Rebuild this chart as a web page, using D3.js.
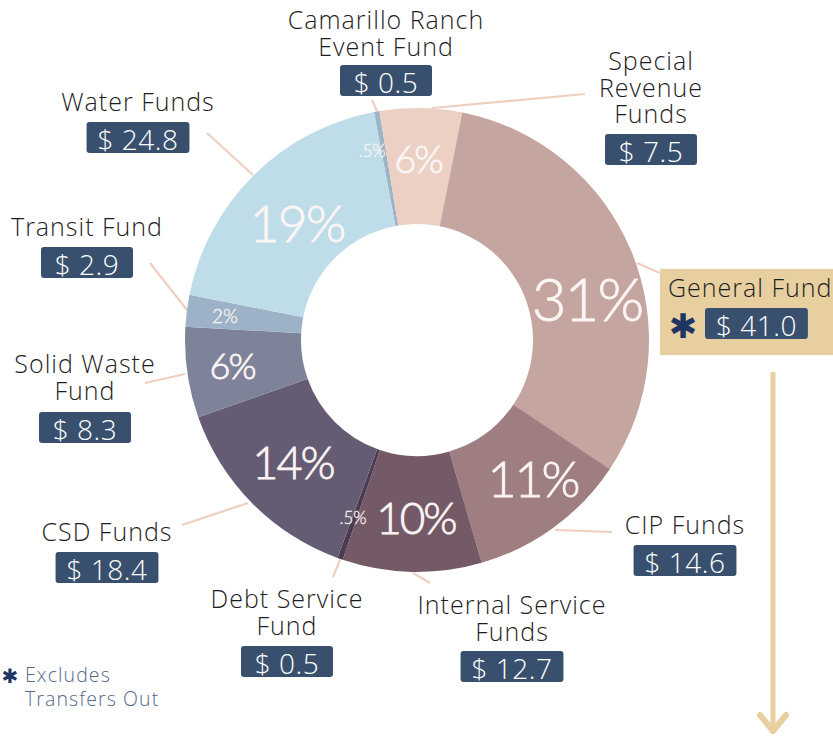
<!DOCTYPE html>
<html><head><meta charset="utf-8">
<script src="https://cdn.jsdelivr.net/npm/d3@7/dist/d3.min.js"></script>
<style>
html,body{margin:0;padding:0;background:#fff;}
svg{display:block;}
</style></head>
<body>
<svg id="chart" width="833" height="740"></svg>
<script>
// ---- data ----
const categories = ["Camarillo Ranch Event Fund","Special Revenue Funds","General Fund","CIP Funds","Internal Service Funds","Debt Service Fund","CSD Funds","Solid Waste Fund","Transit Fund","Water Funds"];
const values = [0.5, 7.5, 41.0, 14.6, 12.7, 0.5, 18.4, 8.3, 2.9, 24.8];
const pctLabels = [".5%","6%","31%","11%","10%",".5%","14%","6%","2%","19%"];
const labelLines = [["Camarillo Ranch","Event Fund"],["Special","Revenue","Funds"],["General Fund"],["CIP Funds"],["Internal Service","Funds"],["Debt Service","Fund"],["CSD Funds"],["Solid Waste","Fund"],["Transit Fund"],["Water Funds"]];
const colors = ["#9db3c7","#ebd0c3","#c4a59f","#9e7e81","#735a66","#4a3b53","#655c74","#7f8399","#9db2c6","#bfdde9"];

// ---- layout (annotation placement) ----
const cx = 417, cy = 340, rOuter = 232, rInner = 116;
const startAngle = -10.7 * Math.PI / 180;
const pctPos = [[372,150,17],[418,158,38],[587,298,60],[533,478,50],[416,517,44],[353,517,17],[293,462,45],[232,365,36],[225,315,19],[297,222,52]];
// label: center x, first baseline, box top, leader [x1,y1,x2,y2]
const labelPos = [
  {x:386, y:29, by:65, lead:[372,100,377,111]},
  {x:651, y:70, by:134, lead:[432,108,585,94]},
  {x:749, y:297, by:308, lead:[637,263,660,273]},
  {x:685, y:534, by:545, lead:[555,530,612,532]},
  {x:512, y:614, by:651, lead:[413,573,430,583]},
  {x:287, y:608, by:646, lead:[340,560,333,577]},
  {x:107, y:541, by:552, lead:[182,525,248,503]},
  {x:85,  y:373, by:412, lead:[145,383,185,374]},
  {x:87,  y:236, by:247, lead:[150,263,187,310]},
  {x:138, y:111, by:122, lead:[207,133,253,175]}
];

const svg = d3.select("#chart");
const FONT = "'Open Sans', Lato, sans-serif";
const PFONT = "Lato, 'Open Sans', sans-serif";

// General fund highlight box + arrow
svg.append("rect").attr("x",660).attr("y",269).attr("width",173).attr("height",86).attr("fill","#e8cf9f");
svg.append("line").attr("x1",773).attr("y1",372).attr("x2",773).attr("y2",733)
  .attr("stroke","#e8cf9f").attr("stroke-width",5);
svg.append("path").attr("d","M760,715 L773,731 L786,715").attr("fill","none")
  .attr("stroke","#e8cf9f").attr("stroke-width",6).attr("stroke-linecap","round").attr("stroke-linejoin","round");

// leader lines
svg.append("g").selectAll("line").data(labelPos).join("line")
  .attr("x1",d=>d.lead[0]).attr("y1",d=>d.lead[1]).attr("x2",d=>d.lead[2]).attr("y2",d=>d.lead[3])
  .attr("stroke","#efcfbf").attr("stroke-width",2.2);

// donut
const pie = d3.pie().sort(null).value(d=>d).startAngle(startAngle).endAngle(startAngle + 2*Math.PI);
const arc = d3.arc().innerRadius(rInner).outerRadius(rOuter);
const arcs = pie(values);
const g = svg.append("g").attr("transform",`translate(${cx},${cy})`);
g.selectAll("path").data(arcs).join("path").attr("d",arc).attr("fill",(d,i)=>colors[i]);

// percent labels
svg.append("g").selectAll("text").data(pctLabels).join("text")
  .attr("x",(d,i)=>pctPos[i][0]).attr("y",(d,i)=>pctPos[i][1])
  .attr("text-anchor","middle").attr("dominant-baseline","central")
  .attr("font-family",PFONT).attr("font-weight",300)
  .attr("font-size",(d,i)=>pctPos[i][2]).attr("fill","#fbf5f4")
  .attr("stroke","#fbf5f4").attr("stroke-width",(d,i)=>pctPos[i][2]>30?0.8:0.3)
  .attr("letter-spacing",(d,i)=>pctPos[i][2]>30?-2:0)
  .text(d=>d);

// category labels
const lg = svg.append("g");
categories.forEach((c,i)=>{
  const p = labelPos[i];
  const lines = labelLines[i];
  const isGen = i===2;
  const tx = lg.append("text").attr("x", isGen ? 668 : p.x).attr("y", p.y)
      .attr("text-anchor", isGen ? "start" : "middle")
      .attr("font-family",FONT).attr("font-weight",300).attr("font-size",25)
      .attr("letter-spacing",1)
      .attr("fill","#1e1e22");
  lines.forEach((ln,j)=>{
    tx.append("tspan").attr("x", isGen ? 668 : p.x).attr("dy", j===0 ? 0 : 26.5).text(ln);
  });
  const vt = "$ " + values[i].toFixed(1);
  const t = lg.append("text").attr("font-family",FONT).attr("font-weight",300).attr("font-size",28)
    .attr("letter-spacing",0.5)
    .attr("fill","#ffffff").attr("text-anchor","middle").attr("dominant-baseline","central").text(vt);
  const tw = t.node().getComputedTextLength();
  const bw = Math.max(92, tw + 22), bh = 31;
  const bx = isGen ? 705 : p.x - bw/2;
  lg.insert("rect", () => t.node()).attr("x",bx).attr("y",p.by).attr("width",bw).attr("height",bh)
    .attr("rx",3).attr("fill","#38506e");
  t.attr("x", bx + bw/2).attr("y", p.by + bh/2 + 1);
  if (isGen) {
    lg.append("text").attr("x",683).attr("y",p.by+bh/2+2).attr("text-anchor","middle")
      .attr("dominant-baseline","central").attr("font-family","'DejaVu Sans'").attr("font-size",34)
      .attr("fill","#1f3563").text("\u2731");
  }
});

// footnote
svg.append("text").attr("x",10).attr("y",676).attr("text-anchor","middle").attr("dominant-baseline","central")
  .attr("font-family","'DejaVu Sans'").attr("font-size",20).attr("fill","#1f3563").text("\u2731");
svg.append("text").attr("x",25).attr("y",682).attr("font-family",FONT).attr("font-weight",300)
  .attr("font-size",19.5).attr("letter-spacing",1.1).attr("fill","#55698a").text("Excludes")
  .append("tspan").attr("x",25).attr("dy",24).text("Transfers Out");
</script>
</body></html>
